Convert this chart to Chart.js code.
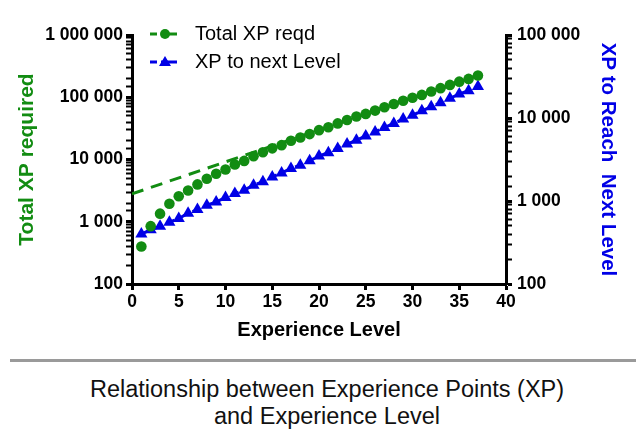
<!DOCTYPE html>
<html lang="en">
<head>
    <meta charset="utf-8">
    <title>Experience Points vs Experience Level</title>
    <script src="https://cdn.jsdelivr.net/npm/chart.js"></script>
    <style>
        body { margin: 0; background: #fff; font-family: "Liberation Sans", Arial, sans-serif; }
        #wrap { width: 640px; height: 350px; }
        #rule { margin: 9px 4px 0 10px; border-top: 3px solid #9a9a9a; }
        #caption { text-align: center; font-size: 23.5px; line-height: 27px; color: #111; margin-top: 14px; padding-left: 14px; }
    </style>
</head>
<body>
    <div id="wrap"><canvas id="xpChart" width="640" height="350"></canvas></div>
    <div id="rule"></div>
    <div id="caption">Relationship between Experience Points (XP)<br>and Experience Level</div>

    <script>
        // data
        const levels = [1,2,3,4,5,6,7,8,9,10,11,12,13,14,15,16,17,18,19,20,21,22,23,24,25,26,27,28,29,30,31,32,33,34,35,36,37];
        const totalXp = [400,850,1350,1950,2570,3180,3980,4900,5900,6900,8300,9500,11300,13100,15100,17000,20000,22600,25600,29600,
                         33000,38000,43000,49000,54000,61000,69000,78000,88000,98000,109000,124000,140000,158000,178000,197000,224000];
        const xpToNext = [400,450,495,555,615,710,790,890,975,1100,1230,1350,1550,1700,1950,2180,2470,2700,3050,3480,
                          3820,4300,4850,5400,6050,6800,7700,8600,9700,10800,12200,13700,15300,17300,19500,21300,24000];
        const fitLevels = [0, 37];
        const fitTotalXp = [2800, 224000];
        const legendLabels = ['Total XP reqd', 'XP to next Level'];

        const GREEN = '#128c12';
        const BLUE = '#0000e6';
        const FONT = '"Liberation Sans", Arial, sans-serif';

        function pts(xs, ys) {
            return xs.map((x, i) => ({ x: x, y: ys[i] }));
        }

        function isPow10(v) {
            const l = Math.log10(v);
            return Math.abs(l - Math.round(l)) < 1e-9;
        }

        function logLabel(v) {
            if (!isPow10(v)) return '';
            return String(Math.round(v)).replace(/\B(?=(\d{3})+(?!\d))/g, ' ');
        }

        // legend drawn by hand: dashed line + marker + text
        const legendPlugin = {
            id: 'xpLegend',
            afterDraw(chart) {
                const ctx = chart.ctx;
                const rows = [
                    { y: 34, color: GREEN, shape: 'circle', text: legendLabels[0] },
                    { y: 62, color: BLUE, shape: 'triangle', text: legendLabels[1] }
                ];
                ctx.save();
                rows.forEach(r => {
                    ctx.strokeStyle = r.color;
                    ctx.fillStyle = r.color;
                    ctx.lineWidth = 3;
                    ctx.beginPath();
                    ctx.moveTo(150, r.y); ctx.lineTo(157, r.y);
                    ctx.moveTo(161, r.y); ctx.lineTo(177, r.y);
                    ctx.stroke();
                    ctx.beginPath();
                    if (r.shape === 'circle') {
                        ctx.arc(165, r.y, 5, 0, Math.PI * 2);
                    } else {
                        ctx.moveTo(165, r.y - 6);
                        ctx.lineTo(171, r.y + 4);
                        ctx.lineTo(159, r.y + 4);
                        ctx.closePath();
                    }
                    ctx.fill();
                    ctx.fillStyle = '#000';
                    ctx.font = '20px ' + FONT;
                    ctx.textBaseline = 'middle';
                    ctx.fillText(r.text, 195, r.y);
                });
                ctx.restore();
            }
        };

        const tickFont = { family: FONT, size: 17.5, weight: 'bold' };

        new Chart(document.getElementById('xpChart'), {
            type: 'line',
            data: {
                datasets: [
                    {
                        label: legendLabels[0],
                        data: pts(levels, totalXp),
                        yAxisID: 'y',
                        showLine: false,
                        pointStyle: 'circle',
                        pointRadius: 5.3,
                        backgroundColor: GREEN,
                        borderColor: GREEN,
                        pointBorderWidth: 0,
                        order: 1
                    },
                    {
                        label: 'fit',
                        data: pts(fitLevels, fitTotalXp),
                        yAxisID: 'y',
                        borderColor: GREEN,
                        borderWidth: 3,
                        borderDash: [12, 8],
                        pointRadius: 0,
                        order: 3
                    },
                    {
                        label: legendLabels[1],
                        data: pts(levels, xpToNext),
                        yAxisID: 'y2',
                        pointStyle: 'triangle',
                        pointRadius: 7,
                        backgroundColor: BLUE,
                        borderColor: BLUE,
                        borderWidth: 3,
                        borderDash: [8, 6],
                        pointBorderWidth: 0,
                        order: 2
                    }
                ]
            },
            options: {
                responsive: false,
                animation: false,
                layout: { padding: { top: 35, left: 0, right: 0, bottom: 0 } },
                plugins: { legend: { display: false }, tooltip: { enabled: false } },
                scales: {
                    x: {
                        type: 'linear',
                        min: 0,
                        max: 40,
                        afterFit: s => { s.height = 66; },
                        border: { width: 3, color: '#000' },
                        grid: { drawOnChartArea: false, drawTicks: true, tickLength: 6, tickWidth: 3, tickColor: '#000' },
                        ticks: { stepSize: 5, color: '#000', font: tickFont, padding: 2 },
                        title: {
                            display: true,
                            text: 'Experience Level',
                            color: '#000',
                            font: { family: FONT, size: 20, weight: 'bold' },
                            padding: 8
                        }
                    },
                    y: {
                        type: 'logarithmic',
                        position: 'left',
                        min: 100,
                        max: 1000000,
                        afterFit: s => { s.width = 132; },
                        border: { width: 3, color: '#000' },
                        grid: {
                            drawOnChartArea: false, drawTicks: true, tickLength: 6, tickColor: '#000',
                            tickWidth: c => (c.tick && isPow10(c.tick.value)) ? 3 : 2
                        },
                        ticks: { autoSkip: false, color: '#000', font: tickFont, padding: 3, callback: logLabel },
                        title: {
                            display: true,
                            text: 'Total XP required',
                            color: GREEN,
                            font: { family: FONT, size: 21, weight: 'bold' },
                            padding: 15
                        }
                    },
                    y2: {
                        type: 'logarithmic',
                        position: 'right',
                        min: 100,
                        max: 100000,
                        afterFit: s => { s.width = 134; },
                        border: { width: 3, color: '#000' },
                        grid: {
                            drawOnChartArea: false, drawTicks: true, tickLength: 6, tickColor: '#000',
                            tickWidth: c => (c.tick && isPow10(c.tick.value)) ? 3 : 2
                        },
                        ticks: { autoSkip: false, color: '#000', font: tickFont, padding: 5, callback: logLabel },
                        title: {
                            display: true,
                            text: 'XP to Reach  Next Level',
                            color: BLUE,
                            font: { family: FONT, size: 20.5, weight: 'bold' },
                            padding: 20
                        }
                    }
                }
            },
            plugins: [legendPlugin]
        });
    </script>
</body>
</html>
